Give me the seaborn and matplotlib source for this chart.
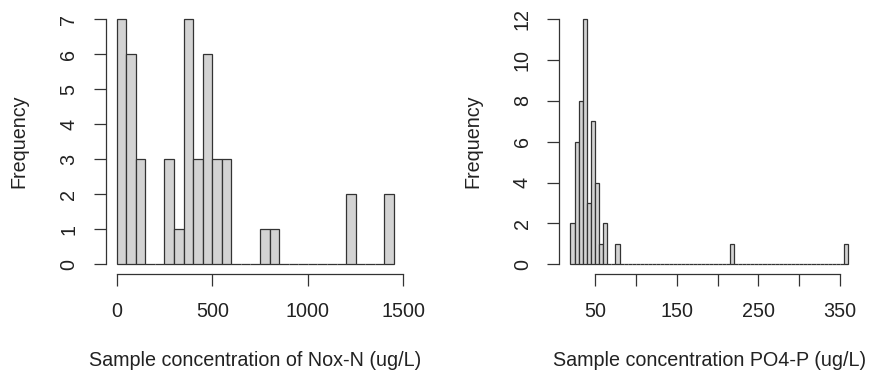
import numpy as np
import pandas as pd
import matplotlib
matplotlib.use("Agg")
import matplotlib.pyplot as plt
import seaborn as sns

# left histogram: Nox-N, bins of 50 ug/L (only non-empty bins listed)
nox_bin_start = [0, 50, 100, 250, 300, 350, 400, 450, 500, 550, 750, 800, 1200, 1400]
nox_counts = [7, 6, 3, 3, 1, 7, 3, 6, 3, 3, 1, 1, 2, 2]
nox_ticks = [0, 500, 1000, 1500]

# right histogram: PO4-P, bins of 5 ug/L (only non-empty bins listed)
po4_bin_start = [20, 25, 30, 35, 40, 45, 50, 55, 60, 75, 215, 355]
po4_counts = [2, 6, 8, 12, 3, 7, 4, 1, 2, 1, 1, 1]
po4_ticks = [50, 100, 150, 200, 250, 300, 350]
po4_labels = ["50", "", "150", "", "250", "", "350"]

sns.set_style("white")
plt.rcParams['font.family'] = ['Liberation Sans', 'DejaVu Sans']

fig = plt.figure(figsize=(8.69, 3.78), dpi=100)
ax1 = fig.add_axes([0.1215, 0.275, 0.3445, 0.7005])
ax2 = fig.add_axes([0.6437, 0.275, 0.3452, 0.7005])

FS = 14.2


def r_hist(ax, starts, counts, width, lo, hi, xticks, xlabels, yticks, xlabel):
    edges = list(np.arange(lo, hi + width / 2, width))
    df = pd.DataFrame({"mid": np.array(starts) + width / 2, "n": counts})
    sns.histplot(data=df, x="mid", weights="n", bins=edges, ax=ax,
                 color="#D3D3D3", alpha=1, edgecolor="#333333", linewidth=0.9)
    pad_x = 0.04 * (hi - lo)
    ymax = max(counts)
    ax.set_xlim(lo - pad_x, hi + pad_x)
    ax.set_ylim(-0.04 * ymax, ymax * 1.04)
    for s in ["top", "right"]:
        ax.spines[s].set_visible(False)
    ax.spines["left"].set_bounds(yticks[0], yticks[-1])
    ax.spines["bottom"].set_bounds(xticks[0], xticks[-1])
    for s in ["left", "bottom"]:
        ax.spines[s].set_color("#333333")
        ax.spines[s].set_linewidth(0.9)
    ax.set_xticks(xticks)
    ax.set_xticklabels(xlabels)
    ax.set_yticks(yticks)
    ax.set_yticklabels([str(v) for v in yticks], rotation=90, va="center")
    ax.tick_params(axis="both", direction="out", length=8.8, width=0.9,
                   color="#333333", labelsize=FS, labelcolor="#222222", pad=11,
                   left=True, bottom=True)
    ax.set_xlabel(xlabel, fontsize=FS, color="#222222", labelpad=22)
    ax.set_ylabel("Frequency", fontsize=FS, color="#222222", labelpad=22)
    ax.grid(False)


r_hist(ax1, nox_bin_start, nox_counts, 50, 0, 1450, nox_ticks,
       [str(v) for v in nox_ticks], list(range(0, 8)),
       "Sample concentration of Nox-N (ug/L)")
r_hist(ax2, po4_bin_start, po4_counts, 5, 20, 360, po4_ticks, po4_labels,
       list(range(0, 13, 2)), "Sample concentration PO4-P (ug/L)")

fig.savefig("out.png", dpi=100)
